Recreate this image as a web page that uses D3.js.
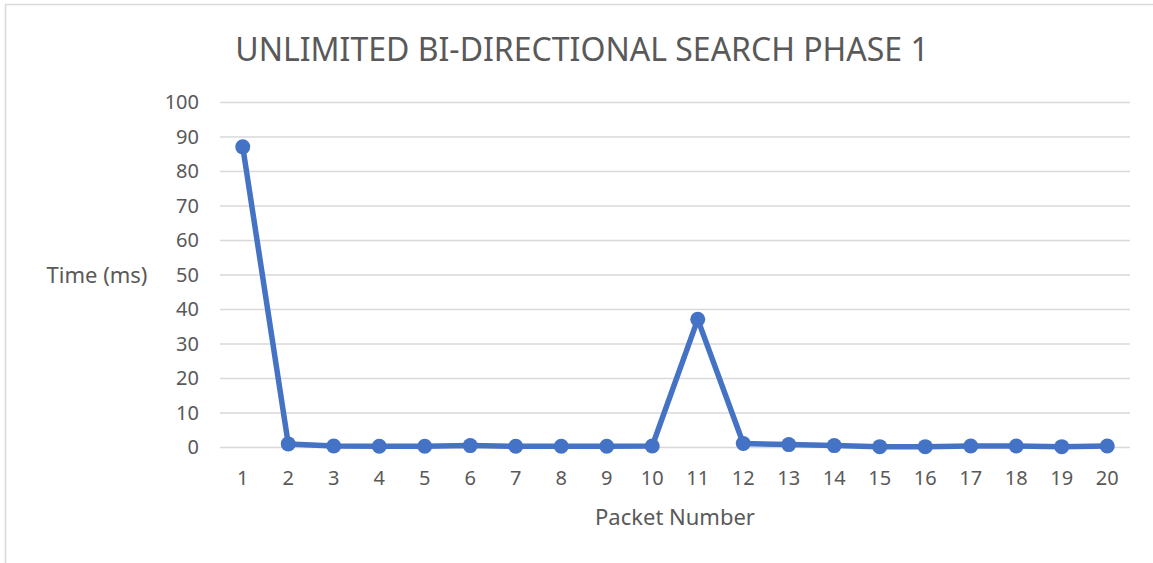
<!DOCTYPE html>
<html>
<head>
<meta charset="utf-8">
<script src="https://cdn.jsdelivr.net/npm/d3@7"></script>
<style>
  body { margin: 0; background: #fff; }
  svg { display: block; font-family: "Noto Sans", "Open Sans", sans-serif; }
</style>
</head>
<body>
<div id="chart"></div>
<script>
const packets = d3.range(1, 21).map(String);
const timeMs = [87, 0.9, 0.3, 0.2, 0.2, 0.4, 0.2, 0.2, 0.2, 0.3, 37, 1, 0.7, 0.4, 0.1, 0.1, 0.3, 0.3, 0.1, 0.3];
const yTicks = d3.range(0, 101, 10);

const width = 1153, height = 563;
const margin = { top: 102, right: 23, bottom: 116, left: 220 };

const svg = d3.select("#chart").append("svg")
  .attr("width", width)
  .attr("height", height);

// outer chart border (only top & left visible in the crop)
svg.append("path")
  .attr("d", `M5.5,${height} V4.5 H${width}`)
  .attr("fill", "none")
  .attr("stroke", "#d9d9d9")
  .attr("stroke-width", 1.5);

const x = d3.scaleBand()
  .domain(packets)
  .range([margin.left, width - margin.right]);

const y = d3.scaleLinear()
  .domain([0, 100])
  .range([height - margin.bottom, margin.top]);

// gridlines
svg.append("g")
  .selectAll("line")
  .data(yTicks)
  .join("line")
  .attr("x1", margin.left)
  .attr("x2", width - margin.right)
  .attr("y1", d => y(d) + 0.5)
  .attr("y2", d => y(d) + 0.5)
  .attr("stroke", "#d9d9d9")
  .attr("stroke-width", 1.5);

// y tick labels
svg.append("g")
  .selectAll("text")
  .data(yTicks)
  .join("text")
  .attr("x", 199)
  .attr("y", d => y(d))
  .attr("dy", "0.35em")
  .attr("text-anchor", "end")
  .attr("fill", "#595959")
  .attr("font-size", 20)
  .text(d => d);

// x tick labels
svg.append("g")
  .selectAll("text")
  .data(packets)
  .join("text")
  .attr("x", d => x(d) + x.bandwidth() / 2)
  .attr("y", 485)
  .attr("text-anchor", "middle")
  .attr("fill", "#595959")
  .attr("font-size", 20)
  .text(d => d);

// title
svg.append("text")
  .attr("x", 582)
  .attr("y", 61)
  .attr("text-anchor", "middle")
  .attr("fill", "#595959")
  .attr("font-size", 32)
  .text("UNLIMITED BI-DIRECTIONAL SEARCH PHASE 1");

// axis titles
svg.append("text")
  .attr("x", 97)
  .attr("y", 283)
  .attr("text-anchor", "middle")
  .attr("fill", "#595959")
  .attr("font-size", 22)
  .text("Time (ms)");

svg.append("text")
  .attr("x", 675)
  .attr("y", 525)
  .attr("text-anchor", "middle")
  .attr("fill", "#595959")
  .attr("font-size", 22)
  .text("Packet Number");

// series
const pts = packets.map((p, i) => ({ p, v: timeMs[i] }));
const line = d3.line()
  .x(d => x(d.p) + x.bandwidth() / 2)
  .y(d => y(d.v));

svg.append("path")
  .datum(pts)
  .attr("d", line)
  .attr("fill", "none")
  .attr("stroke", "#4472c4")
  .attr("stroke-width", 5.5)
  .attr("stroke-linejoin", "round");

svg.append("g")
  .selectAll("circle")
  .data(pts)
  .join("circle")
  .attr("cx", d => x(d.p) + x.bandwidth() / 2)
  .attr("cy", d => y(d.v))
  .attr("r", 7.5)
  .attr("fill", "#4472c4");
</script>
</body>
</html>
